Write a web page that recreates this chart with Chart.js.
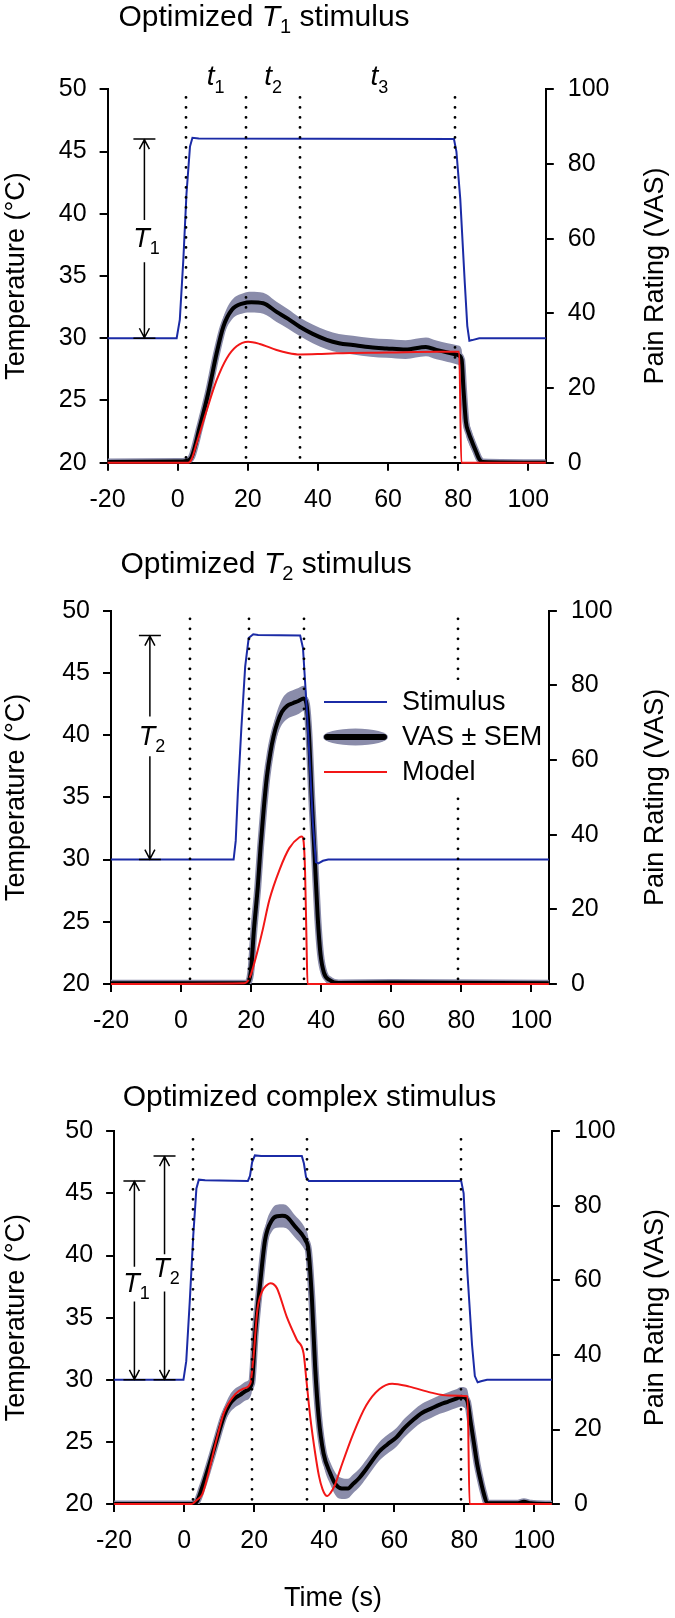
<!DOCTYPE html>
<html><head><meta charset="utf-8">
<script src="https://cdn.jsdelivr.net/npm/chart.js@4.4.1/dist/chart.umd.min.js"></script>
<style>
html,body{margin:0;padding:0;background:#fff;}
body{width:675px;height:1618px;position:relative;overflow:hidden;}
canvas{position:absolute;left:0;}
</style></head><body>
<canvas id="c1" width="675" height="520" style="top:0px"></canvas>
<canvas id="c2" width="675" height="520" style="top:520px"></canvas>
<canvas id="c3" width="675" height="578" style="top:1040px"></canvas>
<script>
const FONT = "'Liberation Sans', Arial, Helvetica, sans-serif";
const BLUE = '#1b2ba6', RED = '#f21717', BAND = '#8a8caa';

// shared axis ticks / labels
const timeTicks = [-20, 0, 20, 40, 60, 80, 100];
const tempTicks = [20, 25, 30, 35, 40, 45, 50];
const vasTicks = [0, 20, 40, 60, 80, 100];
const phaseBounds = [2.5, 19.5, 35, 79];
const legendLabels = ['Stimulus', 'VAS \u00b1 SEM', 'Model'];
const titles = [
  [['Optimized ', 'n'], ['T', 'i'], ['1', 's'], [' stimulus', 'n']],
  [['Optimized ', 'n'], ['T', 'i'], ['2', 's'], [' stimulus', 'n']],
  [['Optimized complex stimulus', 'n']]
];

// ---- Panel 1 : optimized T1 stimulus ----
const stim1X = [-20, -0.3, 0.6, 1.6, 2.5, 3.5, 4.2, 6, 78.8, 79.5, 80.6, 81.9, 82.6, 83.2, 84, 86, 105];
const stim1Y = [30, 30, 31.5, 36.3, 41.6, 45.4, 46.1, 46.05, 46, 45, 41.2, 34.4, 31, 29.8, 29.85, 30, 30];
const vas1X = [-20, 0, 2.5, 4, 6.3, 8.7, 11.1, 13, 15.4, 18.7, 21, 24.4, 28.2, 31.5, 34.8, 38.5, 42.5, 46, 50, 55, 59.6, 65, 70.8, 73.8, 77, 80, 81, 81.5, 82.2, 83, 84, 85, 86, 87, 105];
const vas1Y = [0.2, 0.3, 0.5, 1.6, 9.6, 18.6, 29.3, 36.4, 40.9, 42.7, 43, 42.7, 40.4, 38.5, 36.4, 34.5, 32.9, 32, 31.5, 30.9, 30.6, 30.3, 31, 30.2, 29.5, 28.8, 27.5, 20, 11, 8, 5.5, 3.2, 1, 0.2, 0];
const sem1 = [0.3, 0.3, 0.3, 0.8, 1.5, 2, 2.3, 2.5, 2.6, 2.7, 2.8, 2.8, 2.7, 2.6, 2.5, 2.5, 2.5, 2.5, 2.5, 2.5, 2.5, 2.5, 2.5, 2.5, 2.5, 2.6, 2.8, 3, 3, 2.8, 2.4, 2, 1.2, 0.5, 0.3];
const model1X = [-20, 3, 4, 5.4, 8.3, 11.1, 14, 16.8, 20.1, 23.4, 28.2, 31.5, 34.8, 40, 45.3, 60, 74.8, 80.3, 80.9, 105];
const model1Y = [0, 0, 1, 5.2, 14.1, 22.1, 28, 31.2, 32.4, 31.8, 30.2, 29.4, 29.0, 29.1, 29.3, 29.5, 29.7, 29.7, 0, 0];

// ---- Panel 2 : optimized T2 stimulus ----
const stim2X = [-20, 15, 15.6, 16.2, 17.2, 18.3, 19.3, 20.6, 22, 34, 34.8, 35.8, 36.7, 37.6, 38.5, 39.2, 40.5, 42, 105];
const stim2Y = [30, 30, 31.5, 35.3, 40.5, 45.5, 47.8, 48.1, 48.05, 48, 47, 42.5, 38, 33, 29.8, 29.7, 29.9, 30, 30];
const vas2X = [-20, 18.5, 19.2, 20, 20.8, 21.9, 22.7, 23.6, 24.5, 25.5, 26.4, 27.5, 28.8, 30.3, 31.9, 33.5, 35, 35.8, 36.5, 37.3, 38.2, 39, 39.8, 40.8, 42.5, 45, 60, 105];
const vas2Y = [0.2, 0.2, 0.5, 4, 14.5, 26, 36.8, 47, 55.5, 62, 66.3, 70, 72.9, 74.5, 75.2, 75.8, 76.5, 75, 67, 50, 33, 18, 8, 3, 1, 0.3, 0.4, 0.2];
const sem2 = [0.3, 0.3, 0.4, 1, 1.5, 2, 2.2, 2.5, 2.8, 3, 3.2, 3.3, 3.4, 3.5, 3.5, 3.5, 3.4, 3.2, 3, 2.8, 2.6, 2.4, 2, 1.5, 1, 0.4, 0.3, 0.3];
const model2X = [-20, 18, 19.5, 21.4, 23.3, 25.2, 28.1, 30.9, 33.8, 34.5, 35, 35.4, 35.8, 36.1, 105];
const model2Y = [0, 0.2, 1.5, 7.3, 14.5, 22.5, 30.6, 36.4, 39.3, 39.5, 38, 30, 12, 0, 0];

// ---- Panel 3 : optimized complex stimulus ----
const stim3X = [-20, -0.2, 0.6, 1.6, 2.6, 3.5, 4.2, 6, 18.2, 18.8, 19.4, 20.2, 22, 33.6, 34.2, 34.8, 35.6, 79.1, 79.8, 80.9, 82.2, 83, 83.8, 85, 86.5, 105];
const stim3Y = [30, 30, 31.5, 36.3, 41.6, 45.4, 46.1, 46.05, 46, 46.4, 47.5, 48.05, 48, 48, 47.4, 46.3, 46, 46, 45, 38.5, 32.8, 30.3, 29.8, 29.9, 30, 30];
const vas3X = [-20, 2, 3.5, 5.2, 7, 8.9, 11.4, 13, 14.5, 16, 17.5, 19.3, 20.3, 21.7, 23.1, 25.1, 26.5, 28, 29.3, 31.7, 33.5, 34.6, 35.5, 36.5, 37.4, 38.4, 39.8, 41.7, 43.4, 45, 46.8, 48.3, 50, 52, 55.7, 58, 60.6, 63, 65.5, 68, 70.5, 73, 75.4, 77.5, 79.1, 80.2, 80.9, 81.8, 82.8, 83.7, 84.6, 85.5, 86.5, 95, 97, 99, 105];
const vas3Y = [0, 0, 0.5, 4.6, 10, 16, 23.7, 26.8, 28.4, 29.3, 30.3, 32.4, 45.8, 59.2, 70.8, 76.2, 77.2, 77.3, 77, 74.4, 72.5, 70.8, 68.1, 54.7, 36.8, 23.4, 13.6, 8.3, 5.1, 4.2, 4.2, 5.5, 7, 9.4, 14.1, 16, 17.9, 20.5, 22.7, 24.5, 25.6, 26.7, 27.5, 28.2, 28.8, 28.5, 27.5, 22, 16, 10.5, 6.5, 3, 0.3, 0.2, 0.6, 0.2, 0];
const sem3 = [0.3, 0.3, 0.4, 1, 1.5, 2, 2.2, 2.4, 2.5, 2.5, 2.5, 2.6, 2.8, 3, 3, 3, 3.1, 3.1, 3.1, 3, 3, 3, 3, 3, 3, 3, 3, 3, 3, 2.8, 2.6, 2.5, 2.5, 2.5, 2.5, 2.5, 2.5, 2.5, 2.5, 2.5, 2.5, 2.5, 2.5, 2.5, 2.6, 2.8, 3, 3, 2.8, 2.5, 2, 1.5, 0.6, 0.3, 0.3, 0.3, 0.3];
const model3X = [-20, 2.2, 3.5, 5.2, 7, 8.9, 11.4, 14.5, 17, 18.9, 19.8, 20.9, 22.2, 23.5, 24.6, 25.5, 26.5, 29.3, 32.2, 34.1, 34.9, 36, 37.4, 38.5, 39.5, 40.3, 40.9, 41.8, 43, 44.6, 48.3, 52, 55.7, 59.4, 64.3, 70.5, 75.4, 80.9, 81.5, 105];
const model3Y = [0, 0, 1, 2.7, 8.5, 16, 24.6, 29.4, 31, 32.4, 39.5, 52, 56.9, 58.6, 59.2, 59, 57.9, 50.2, 44, 40.4, 33.3, 23.4, 13.7, 7.5, 4, 2.5, 2.2, 3, 5, 9.4, 18.9, 26.5, 30.8, 32.3, 31.5, 29.9, 29.1, 28.9, 0, 0];

// ---- annotation amplitudes (T1 / T2 arrows) ----
const arrows1 = [{x: -9.5, from: 30, to: 46, name: 'T', sub: '1', base: 37.3, gap: [36.1, 39.5]}];
const arrows2 = [{x: -8.9, from: 30, to: 48, name: 'T', sub: '2', base: 39.2, gap: [38.3, 41.5]}];
const arrows3 = [{x: -14.2, from: 30, to: 46, name: 'T', sub: '1', base: 37.1, gap: [36.3, 39.1]},
                 {x: -5.6, from: 30, to: 48, name: 'T', sub: '2', base: 38.3, gap: [37.1, 40.1]}];
const phaseLabels = [{x: 10.8, sub: '1'}, {x: 27.2, sub: '2'}, {x: 57.5, sub: '3'}];

Chart.defaults.font.family = FONT;
Chart.defaults.color = '#000';

function pts(xs, ys) { return xs.map((x, i) => ({x: x, y: ys[i]})); }
function band(xs, ys, s, sign) { return xs.map((x, i) => ({x: x, y: Math.max(0, ys[i] + sign * s[i])})); }

function rich(ctx, parts, x, y, align) {
  let w = 0;
  parts.forEach(p => { ctx.font = p.f; p.w = ctx.measureText(p.t).width; w += p.w; });
  let cx = align === 'center' ? x - w / 2 : x;
  ctx.textAlign = 'left'; ctx.textBaseline = 'alphabetic';
  parts.forEach(p => { ctx.font = p.f; ctx.fillText(p.t, cx, y + (p.dy || 0)); cx += p.w; });
}

function build(id, H, area, D, cfg) {
  const W = 675;
  const annot = {
    id: 'annot' + id,
    afterDatasetsDraw(chart) {
      const ctx = chart.ctx, xs = chart.scales.x, ys = chart.scales.y;
      ctx.save();
      // dotted phase boundaries
      ctx.strokeStyle = '#000'; ctx.lineWidth = 2.8; ctx.lineCap = 'round'; ctx.setLineDash([0, 10]);
      phaseBounds.forEach(v => {
        const px = Math.round(xs.getPixelForValue(v));
        ctx.beginPath(); ctx.moveTo(px, ys.getPixelForValue(49.35)); ctx.lineTo(px, ys.getPixelForValue(20) - 2); ctx.stroke();
      });
      ctx.setLineDash([]);
      // amplitude arrows
      ctx.lineWidth = 1.5; ctx.lineCap = 'butt';
      cfg.arrows.forEach(a => {
        const px = xs.getPixelForValue(a.x), yT = ys.getPixelForValue(a.to), yB = ys.getPixelForValue(a.from);
        const g1 = ys.getPixelForValue(a.gap[1]), g0 = ys.getPixelForValue(a.gap[0]);
        ctx.beginPath();
        ctx.moveTo(px - 11, yT); ctx.lineTo(px + 11, yT);
        ctx.moveTo(px - 11, yB); ctx.lineTo(px + 11, yB);
        ctx.moveTo(px, yT); ctx.lineTo(px, g1);
        ctx.moveTo(px, g0); ctx.lineTo(px, yB);
        ctx.moveTo(px - 5, yT + 10); ctx.lineTo(px, yT + 0.5); ctx.lineTo(px + 5, yT + 10);
        ctx.moveTo(px - 5, yB - 10); ctx.lineTo(px, yB - 0.5); ctx.lineTo(px + 5, yB - 10);
        ctx.stroke();
        ctx.fillStyle = '#000';
        rich(ctx, [{t: a.name, f: 'italic 27px ' + FONT}, {t: a.sub, f: '18px ' + FONT, dy: 7}], px + 2, ys.getPixelForValue(a.base), 'center');
      });
      // phase labels t1 t2 t3
      if (cfg.phase) {
        ctx.fillStyle = '#000';
        phaseLabels.forEach(p => {
          rich(ctx, [{t: 't', f: 'italic 28px ' + FONT}, {t: p.sub, f: '18px ' + FONT, dy: 8}], xs.getPixelForValue(p.x), 85, 'center');
        });
      }
      // legend
      if (cfg.legend) {
        const L = cfg.legend;
        ctx.fillStyle = '#fff';
        ctx.fillRect(L.x0 - 4, L.rows[0] - 22, 545 - L.x0, L.rows[2] - L.rows[0] + 44);
        // Stimulus
        ctx.strokeStyle = BLUE; ctx.lineWidth = 2;
        ctx.beginPath(); ctx.moveTo(L.x0, L.rows[0]); ctx.lineTo(L.x1, L.rows[0]); ctx.stroke();
        // VAS +- SEM
        ctx.fillStyle = BAND;
        ctx.beginPath(); ctx.ellipse((L.x0 + L.x1) / 2, L.rows[1], (L.x1 - L.x0) / 2 + 1, 8.5, 0, 0, Math.PI * 2); ctx.fill();
        ctx.strokeStyle = '#000'; ctx.lineWidth = 6; ctx.lineCap = 'round';
        ctx.beginPath(); ctx.moveTo(L.x0 + 3, L.rows[1]); ctx.lineTo(L.x1 - 3, L.rows[1]); ctx.stroke();
        ctx.lineCap = 'butt';
        // Model
        ctx.strokeStyle = RED; ctx.lineWidth = 2;
        ctx.beginPath(); ctx.moveTo(L.x0, L.rows[2]); ctx.lineTo(L.x1, L.rows[2]); ctx.stroke();
        ctx.fillStyle = '#000'; ctx.font = '27px ' + FONT; ctx.textAlign = 'left'; ctx.textBaseline = 'middle';
        legendLabels.forEach((t, i) => ctx.fillText(t, L.tx, L.rows[i] + 1));
      }
      ctx.restore();
    },
    afterDraw(chart) {
      const ctx = chart.ctx, ca = chart.chartArea;
      ctx.save();
      ctx.fillStyle = '#000';
      // panel title
      const parts = cfg.title.map(p => ({t: p[0], f: (p[1] === 'i' ? 'italic 30px ' : p[1] === 's' ? '20px ' : '30px ') + FONT, dy: p[1] === 's' ? 7 : 0}));
      rich(ctx, parts, cfg.titleX, cfg.titleY, 'left');
      // right axis title (reads bottom to top)
      ctx.translate(656, (ca.top + ca.bottom) / 2);
      ctx.rotate(-Math.PI / 2);
      ctx.font = '27px ' + FONT; ctx.textAlign = 'center'; ctx.textBaseline = 'middle';
      ctx.fillText('Pain Rating (VAS)', 0, 0);
      ctx.restore();
    }
  };

  const ds = [
    {label: 'Model', data: pts(D.modelX, D.modelY), yAxisID: 'y2', borderColor: RED, borderWidth: 2, cubicInterpolationMode: 'monotone', order: 0, clip: false},
    {label: 'Stimulus', data: pts(D.stimX, D.stimY), yAxisID: 'y', borderColor: BLUE, borderWidth: 2, tension: 0, order: 1, clip: false},
    {label: 'VAS', data: pts(D.vasX, D.vasY), yAxisID: 'y2', borderColor: '#000', borderWidth: 4, cubicInterpolationMode: 'monotone', order: 2},
    {label: 'SEM halo', data: pts(D.vasX, D.vasY), yAxisID: 'y2', borderColor: BAND, borderWidth: 7, cubicInterpolationMode: 'monotone', order: 3},
    {label: 'SEM upper', data: band(D.vasX, D.vasY, D.sem, 1), yAxisID: 'y2', borderWidth: 0, borderColor: 'rgba(0,0,0,0)', backgroundColor: BAND, fill: '+1', cubicInterpolationMode: 'monotone', order: 4},
    {label: 'SEM lower', data: band(D.vasX, D.vasY, D.sem, -1), yAxisID: 'y2', borderWidth: 0, borderColor: 'rgba(0,0,0,0)', fill: false, cubicInterpolationMode: 'monotone', order: 5}
  ];
  const grid = {drawOnChartArea: false, drawTicks: true, tickLength: 8, tickWidth: 2, tickColor: '#000', color: '#000', lineWidth: 2};
  const border = {display: true, color: '#000', width: 2};
  return new Chart(document.getElementById(id), {
    type: 'line',
    data: {datasets: ds},
    options: {
      responsive: false, animation: false, events: [],
      elements: {point: {radius: 0}},
      layout: {autoPadding: false, padding: {top: area.top, left: 0, right: 0, bottom: 0}},
      plugins: {legend: {display: false}, tooltip: {enabled: false}, title: {display: false}},
      scales: {
        x: {
          type: 'linear', position: 'bottom', min: -20, max: 105,
          afterBuildTicks: s => { s.ticks = timeTicks.map(v => ({value: v})); },
          afterFit: s => { s.height = H - area.bottom; },
          ticks: {font: {size: 25, family: FONT}, color: '#000', padding: 14, maxRotation: 0, autoSkip: false, callback: v => String(v)},
          grid: grid, border: border,
          title: {display: !!cfg.xTitle, text: 'Time (s)', font: {size: 27, family: FONT}, color: '#000', padding: {top: 0, bottom: 3}}
        },
        y: {
          position: 'left', min: 20, max: 50,
          afterBuildTicks: s => { s.ticks = tempTicks.map(v => ({value: v})); },
          afterFit: s => { s.width = area.left; },
          ticks: {font: {size: 25, family: FONT}, color: '#000', padding: 13},
          grid: grid, border: border,
          title: {display: true, text: 'Temperature (\u00b0C)', font: {size: 27, family: FONT}, color: '#000', padding: {top: 0, bottom: 0}}
        },
        y2: {
          position: 'right', min: 0, max: 100,
          afterBuildTicks: s => { s.ticks = vasTicks.map(v => ({value: v})); },
          afterFit: s => { s.width = W - area.right; },
          ticks: {font: {size: 25, family: FONT}, color: '#000', padding: 14},
          grid: grid, border: border
        }
      }
    },
    plugins: [annot]
  });
}

build('c1', 520, {left: 107.6, right: 545.8, top: 89.3, bottom: 462.7},
  {stimX: stim1X, stimY: stim1Y, vasX: vas1X, vasY: vas1Y, sem: sem1, modelX: model1X, modelY: model1Y},
  {arrows: arrows1, phase: true, title: titles[0], titleX: 118.4, titleY: 26});
build('c2', 520, {left: 111, right: 548.9, top: 90.7, bottom: 464},
  {stimX: stim2X, stimY: stim2Y, vasX: vas2X, vasY: vas2Y, sem: sem2, modelX: model2X, modelY: model2Y},
  {arrows: arrows2, title: titles[1], titleX: 120.5, titleY: 53.3,
   legend: {x0: 324, x1: 387, tx: 402, rows: [182, 217, 252]}});
build('c3', 578, {left: 114.1, right: 551.9, top: 91.2, bottom: 464.1},
  {stimX: stim3X, stimY: stim3Y, vasX: vas3X, vasY: vas3Y, sem: sem3, modelX: model3X, modelY: model3Y},
  {arrows: arrows3, title: titles[2], titleX: 122.7, titleY: 66.3, xTitle: true});
</script>
</body></html>
